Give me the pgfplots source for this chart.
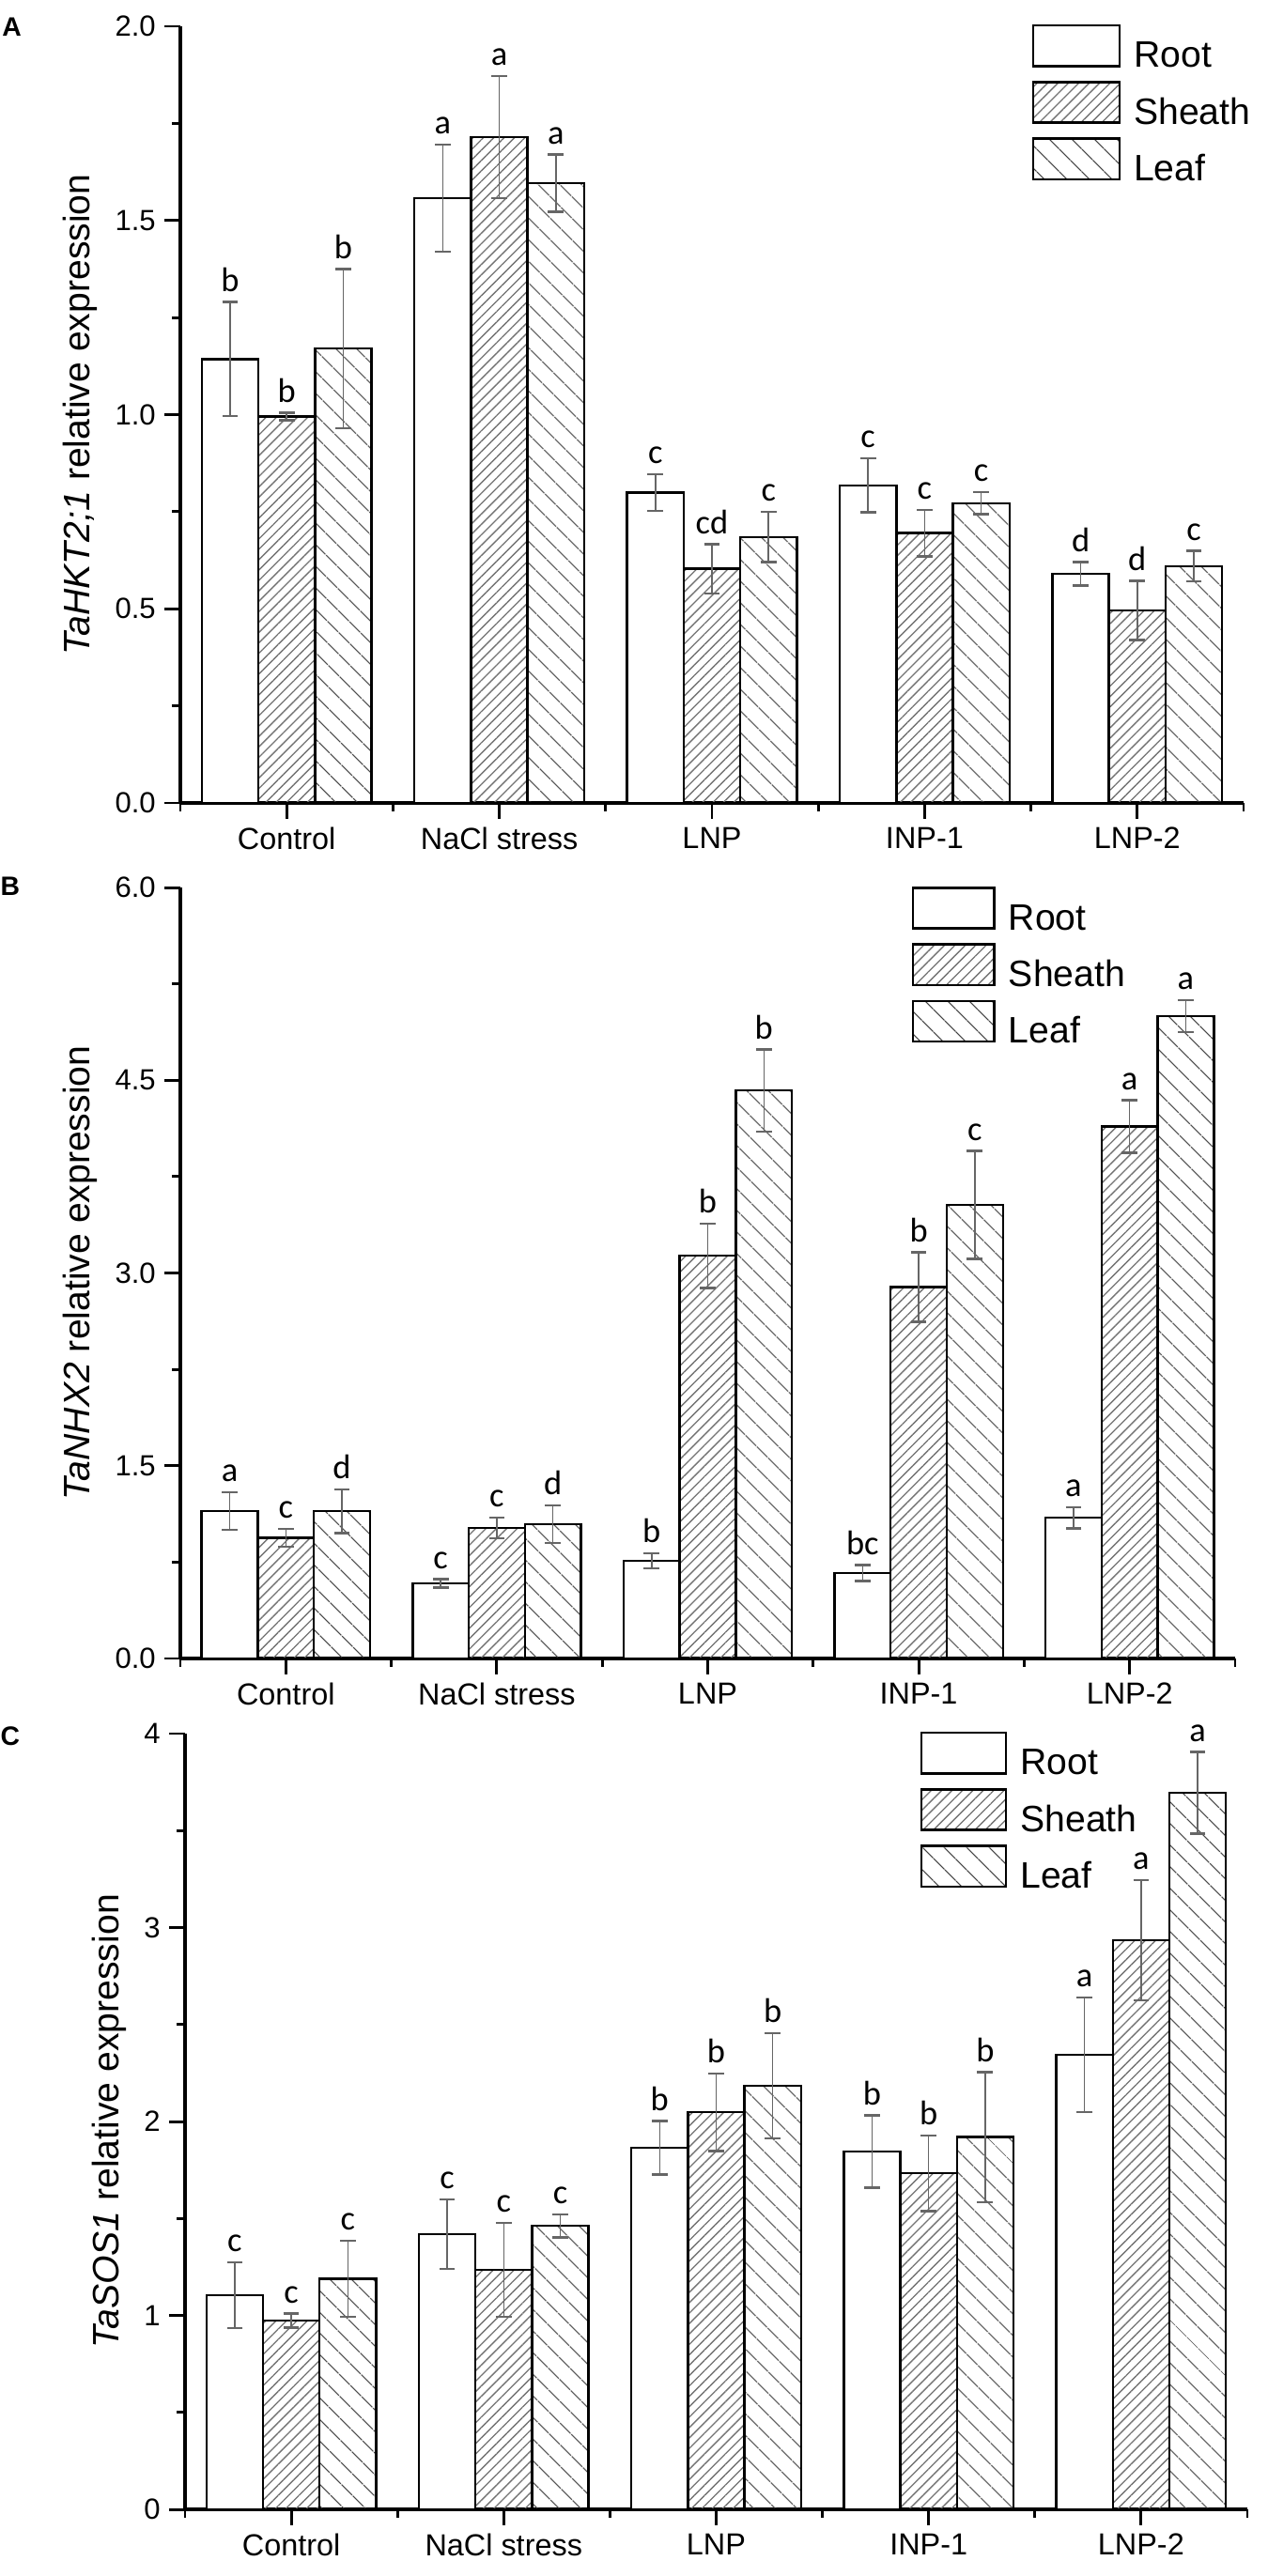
\documentclass[border=0pt]{standalone}
\usepackage{pgfplots}
\pgfplotsset{compat=1.18}
\usepackage{pgfplotstable}
\usepackage{fontspec}
\setmainfont{Liberation Sans}
\newfontfamily\carlito{Carlito}
\usetikzlibrary{patterns.meta}

% x: category index; r/s/l = Root/Sheath/Leaf; v=value, e=error, l=letter
\pgfplotstableread{
x rv re rl sv se sl lv le ll
0 1.143 0.147 b 0.995 0.010 b 1.170 0.205 b
1 1.557 0.138 a 1.715 0.157 a 1.596 0.074 a
2 0.799 0.047 c 0.603 0.063 cd 0.685 0.065 c
3 0.818 0.070 c 0.695 0.060 c 0.772 0.028 c
4 0.590 0.030 d 0.496 0.076 d 0.610 0.039 c
}\dataA

\pgfplotstableread{
x rv re rl sv se sl lv le ll
0 1.147 0.146 a 0.940 0.070 c 1.147 0.170 d
1 0.584 0.032 c 1.017 0.080 c 1.045 0.145 d
2 0.760 0.060 b 3.134 0.250 b 4.420 0.320 b
3 0.665 0.062 bc 2.890 0.270 b 3.530 0.420 c
4 1.095 0.082 a 4.140 0.205 a 5.000 0.125 a
}\dataB

\pgfplotstableread{
x rv re rl sv se sl lv le ll
0 1.104 0.170 c 0.974 0.036 c 1.190 0.196 c
1 1.419 0.178 c 1.235 0.242 c 1.462 0.060 c
2 1.864 0.138 b 2.048 0.200 b 2.184 0.270 b
3 1.845 0.186 b 1.733 0.195 b 1.920 0.335 b
4 2.344 0.295 a 2.934 0.310 a 3.695 0.210 a
}\dataC

\def\legw{34pt}
\pgfplotsset{
  panel/.style={
    scale only axis, clip=false,
    xmin=-0.5, xmax=4.5, ymin=0,
    axis x line*=bottom, axis y line*=left,
    axis line style={line width=1.3pt},
    tick align=outside,
    major tick length=6.2pt, minor tick length=3.2pt,
    major tick style={line width=1.1pt, black},
    minor tick style={line width=1.1pt, black},
    xtick={0,1,2,3,4},
    xticklabels={Control, NaCl stress, LNP, INP-1, LNP-2},
    minor xtick={-0.5,0.5,1.5,2.5,3.5,4.5},
    minor y tick num=1,
    /pgf/number format/assume math mode=true,
    yticklabel style={font=\fontsize{11.5}{13}\selectfont},
    xticklabel style={font=\fontsize{12}{14}\selectfont},
    ylabel style={font=\fontsize{14.5}{16}\selectfont},
    bar width=0.266,
    legend cell align=left,
    legend style={draw=none, fill=none, inner sep=0pt, outer sep=0pt,
      row sep=0pt, column sep=5.2pt, anchor=north west,
      font=\fontsize{14.5}{16}\selectfont,
      nodes={inner sep=0pt, text height=12pt, text depth=5.3pt}},
  },
  bars/.style={ybar, bar shift=0pt, draw=black, line width=0.9pt,
    legend image code/.code={\draw[##1, line width=0.9pt] (0pt,-2.8pt) rectangle (\legw,13.2pt);},
    error bars/y dir=both, error bars/y explicit,
    error bars/error bar style={line width=0.55pt, black!60},
    error bars/error mark options={rotate=90, mark size=3.1pt, line width=0.9pt, black!60}},
  rootbar/.style={bars, fill=white},
  sheathbar/.style={bars, pattern={Lines[angle=45,distance=2.9pt,line width=0.5pt]}, pattern color=black!55},
  leafbar/.style={bars, pattern={Lines[angle=-45,distance=6.4pt,line width=0.5pt]}, pattern color=black!75},
  letters/.style={forget plot, draw=none, mark=none, nodes near coords,
    point meta=explicit symbolic,
    nodes near coords style={font=\carlito\fontsize{13.5}{15}\selectfont, text=black,
      inner sep=0pt, text depth=0pt, anchor=south, yshift=4pt}},
}

\begin{document}
\begin{tikzpicture}
\useasboundingbox (0,0) rectangle (500pt,-1015.93pt);

% ---------- A ----------
\def\legw{34pt}
\begin{axis}[panel, at={(71.11pt,-316.67pt)}, anchor=south west,
  width=419.26pt, height=306.30pt, ymax=2.0,
  ytick={0,0.5,1,1.5,2},
  yticklabel style={/pgf/number format/.cd, fixed, fixed zerofill, precision=1},
  ylabel={\textit{TaHKT2;1} relative expression},
  legend style={at={(0.8012,1.0024)}}]
\addplot[rootbar] table[x expr=\thisrow{x}-0.266, y=rv, y error=re]{\dataA};
\addplot[sheathbar] table[x=x, y=sv, y error=se]{\dataA};
\addplot[leafbar] table[x expr=\thisrow{x}+0.266, y=lv, y error=le]{\dataA};
\legend{Root, Sheath, Leaf}
\addplot[letters] table[x expr=\thisrow{x}-0.266, y expr=\thisrow{rv}+\thisrow{re}, meta=rl]{\dataA};
\addplot[letters] table[x=x, y expr=\thisrow{sv}+\thisrow{se}, meta=sl]{\dataA};
\addplot[letters] table[x expr=\thisrow{x}+0.266, y expr=\thisrow{lv}+\thisrow{le}, meta=ll]{\dataA};
\end{axis}

% ---------- B ----------
\def\legw{32pt}
\begin{axis}[panel, at={(71.11pt,-654.07pt)}, anchor=south west,
  width=415.93pt, height=304.07pt, ymax=6.0,
  ytick={0,1.5,3,4.5,6},
  yticklabel style={/pgf/number format/.cd, fixed, fixed zerofill, precision=1},
  ylabel={\textit{TaNHX2} relative expression},
  legend style={at={(0.6937,1.001)}}]
\addplot[rootbar] table[x expr=\thisrow{x}-0.266, y=rv, y error=re]{\dataB};
\addplot[sheathbar] table[x=x, y=sv, y error=se]{\dataB};
\addplot[leafbar] table[x expr=\thisrow{x}+0.266, y=lv, y error=le]{\dataB};
\legend{Root, Sheath, Leaf}
\addplot[letters] table[x expr=\thisrow{x}-0.266, y expr=\thisrow{rv}+\thisrow{re}, meta=rl]{\dataB};
\addplot[letters] table[x=x, y expr=\thisrow{sv}+\thisrow{se}, meta=sl]{\dataB};
\addplot[letters] table[x expr=\thisrow{x}+0.266, y expr=\thisrow{lv}+\thisrow{le}, meta=ll]{\dataB};
\end{axis}

% ---------- C ----------
\def\legw{33.3pt}
\begin{axis}[panel, at={(72.96pt,-989.63pt)}, anchor=south west,
  width=418.89pt, height=305.93pt, ymax=4,
  ytick={0,1,2,3,4},
  ylabel={\textit{TaSOS1} relative expression},
  legend style={at={(0.6923,1.0024)}}]
\addplot[rootbar] table[x expr=\thisrow{x}-0.266, y=rv, y error=re]{\dataC};
\addplot[sheathbar] table[x=x, y=sv, y error=se]{\dataC};
\addplot[leafbar] table[x expr=\thisrow{x}+0.266, y=lv, y error=le]{\dataC};
\legend{Root, Sheath, Leaf}
\addplot[letters] table[x expr=\thisrow{x}-0.266, y expr=\thisrow{rv}+\thisrow{re}, meta=rl]{\dataC};
\addplot[letters] table[x=x, y expr=\thisrow{sv}+\thisrow{se}, meta=sl]{\dataC};
\addplot[letters] table[x expr=\thisrow{x}+0.266, y expr=\thisrow{lv}+\thisrow{le}, meta=ll]{\dataC};
\end{axis}

\node[anchor=north west, inner sep=0pt, font=\bfseries\fontsize{10.5}{12}\selectfont] at (0.7pt,-6.7pt) {A};
\node[anchor=north west, inner sep=0pt, font=\bfseries\fontsize{10.5}{12}\selectfont] at (0pt,-345.6pt) {B};
\node[anchor=north west, inner sep=0pt, font=\bfseries\fontsize{10.5}{12}\selectfont] at (0pt,-680.7pt) {C};
\end{tikzpicture}
\end{document}
